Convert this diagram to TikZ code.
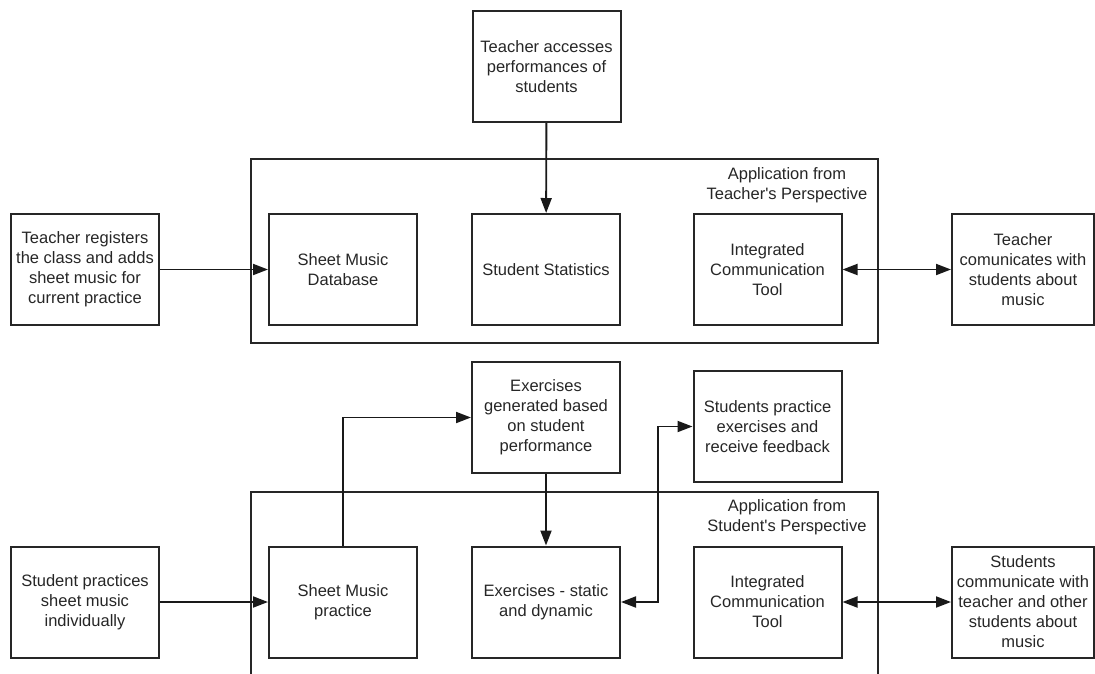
\documentclass[tikz,border=0pt]{standalone}
\usepackage{fontspec}
\setmainfont{Liberation Sans}
\usetikzlibrary{arrows.meta}

\tikzset{
  box/.style={draw=black!85, line width=2pt, minimum width=148pt, minimum height=111pt,
    align=center, text=black!85, inner sep=2pt, font=\fontsize{16.5}{20}\selectfont},
  conn/.style={line width=1.9pt, draw=black!90, -{Triangle[length=15pt,width=11pt]}},
  link/.style={conn, {Triangle[length=15pt,width=11pt]}-{Triangle[length=15pt,width=11pt]}},
  appframe/.style={draw=black!85, line width=2pt},
  applabel/.style={align=center, text=black!85, font=\fontsize{16.5}{20}\selectfont}
}

\begin{document}
\begin{tikzpicture}[x=1pt, y=-1pt]
% page size of the reference (1 unit = 1 px)
\clip (0,0) rectangle (1095,673);

% Teacher's side
\node[box] (access) at (546.5,66.5) {Teacher accesses\\performances of\\students};
\draw[appframe] (251,159) rectangle (878,343);
\node[applabel] (tlabel) at (787,185) {Application from\\Teacher\textquotesingle s Perspective};
\node[box] (register) at (85,269.5) {Teacher registers\\the class and adds\\sheet music for\\current practice};
\node[box] (smdb) at (343,269.5) {Sheet Music\\Database};
\node[box] (stats) at (546,269.5) {Student Statistics};
\node[box] (ictT) at (767.5,269.5) {Integrated\\Communication\\Tool};
\node[box, minimum width=142pt] (talk) at (1023,269.5) {Teacher\\comunicates with\\students about\\music};

\draw[conn] (access) -- (stats);
\draw[conn] (register) -- (smdb);
\draw[link] (ictT) -- (talk);

% Student's side
\node[box] (exgen) at (546,417.5) {Exercises\\generated based\\on student\\performance};
\node[box] (feedback) at (767.5,426.5) {Students practice\\exercises and\\receive feedback};
\draw[appframe] (251,492) rectangle (878,700);
\node[applabel] (slabel) at (787,517) {Application from\\Student\textquotesingle s Perspective};
\node[box] (solo) at (85,602) {Student practices\\sheet music\\individually};
\node[box] (smpr) at (343,602) {Sheet Music\\practice};
\node[box] (exsd) at (546,602) {Exercises - static\\and dynamic};
\node[box] (ictS) at (767.5,602) {Integrated\\Communication\\Tool};
\node[box, minimum width=142pt] (chat) at (1023,602) {Students\\communicate with\\teacher and other\\students about\\music};

\draw[conn] (solo) -- (smpr);
\draw[conn] (smpr.north) |- (exgen);
\draw[conn] (exgen) -- (exsd);
\draw[link] (exsd.east) -- ++(37,0) |- (feedback);
\draw[link] (ictS) -- (chat);
\end{tikzpicture}
\end{document}
